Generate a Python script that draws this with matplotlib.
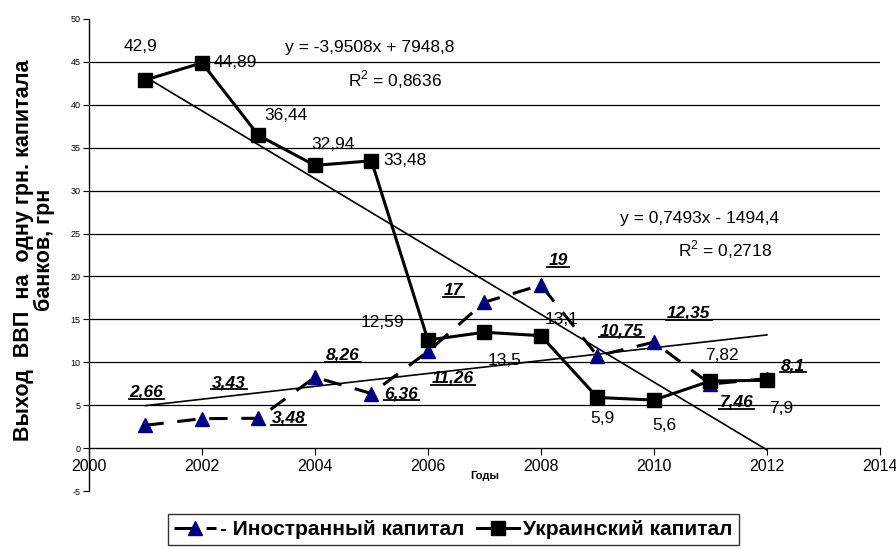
import numpy as np
import matplotlib
matplotlib.use("Agg")
import matplotlib.pyplot as plt
from matplotlib.lines import Line2D

plt.rcParams['font.family'] = ['Liberation Sans', 'DejaVu Sans']
plt.rcParams['mathtext.fontset'] = 'custom'
plt.rcParams['mathtext.rm'] = 'Liberation Sans'
plt.rcParams['axes.unicode_minus'] = False

# data
years = [2001, 2002, 2003, 2004, 2005, 2006, 2007, 2008, 2009, 2010, 2011, 2012]
ukr = [42.9, 44.89, 36.44, 32.94, 33.48, 12.59, 13.5, 13.1, 5.9, 5.6, 7.82, 7.9]
foreign = [2.66, 3.43, 3.48, 8.26, 6.36, 11.26, 17, 19, 10.75, 12.35, 7.46, 8.1]
ukr_labels = ["42,9", "44,89", "36,44", "32,94", "33,48", "12,59", "13,5", "13,1", "5,9", "5,6", "7,82", "7,9"]
foreign_labels = ["2,66", "3,43", "3,48", "8,26", "6,36", "11,26", "17", "19", "10,75", "12,35", "7,46", "8,1"]
ukr_trend = (-3.9508, 7948.8)
foreign_trend = (0.7493, -1494.4)
ukr_eq = ["y = -3,9508x + 7948,8", "R$^2$ = 0,8636"]
foreign_eq = ["y = 0,7493x - 1494,4", "R$^2$ = 0,2718"]
series_names = ["- Иностранный капитал", "Украинский капитал"]

# label offsets in pixels (layout only)
ukr_off = [(-5, 33), (33, 0), (28, 20), (18, 21), (34, 0), (-45, 18),
           (20, -28), (21, 16), (5, -21), (10, -25), (12, 25), (14, -28)]
foreign_off = [(1, 33), (27, 36), (30, 0), (28, 22), (30, 0), (25, -27),
               (-31, 12), (17, 25), (24, 25), (35, 29), (26, -18), (26, 13)]

fig = plt.figure(figsize=(8.96, 5.49), dpi=100)
ax = fig.add_axes([0.0993, 0.1056, 0.8827, 0.8598])

ax.set_xlim(2000, 2014)
ax.set_ylim(-5, 50)

for g in np.arange(5, 50, 5):
    ax.axhline(g, color='black', lw=0.9, zorder=1)

# trend lines
tx = np.array([years[0], years[-1]])
ax.plot(tx, ukr_trend[0] * tx + ukr_trend[1], color='black', lw=1.2, zorder=2)
ax.plot(tx, foreign_trend[0] * tx + foreign_trend[1], color='black', lw=1.2, zorder=2)

# series
ax.plot(years, foreign, color='black', lw=2.2, dashes=(6, 4.5),
        marker='^', ms=10, mfc='#000080', mec='#000080', zorder=3)
ax.plot(years, ukr, color='black', lw=2.2,
        marker='s', ms=10, mfc='black', mec='black', zorder=4)

for x, y, t, (dx, dy) in zip(years, ukr, ukr_labels, ukr_off):
    ax.annotate(t, (x, y), xytext=(dx, dy), textcoords='offset pixels',
                ha='center', va='center', fontsize=12.5, zorder=5)

foreign_texts = []
for x, y, t, (dx, dy) in zip(years, foreign, foreign_labels, foreign_off):
    a = ax.annotate(t, (x, y), xytext=(dx, dy), textcoords='offset pixels',
                    ha='center', va='center', fontsize=12.5,
                    fontstyle='italic', fontweight='bold', zorder=5)
    foreign_texts.append(a)

ax.text(2004.97, 46.7, ukr_eq[0], ha='center', va='center', fontsize=12.5)
ax.text(2005.42, 42.9, ukr_eq[1], ha='center', va='center', fontsize=12.5)
ax.text(2010.81, 26.8, foreign_eq[0], ha='center', va='center', fontsize=12.5)
ax.text(2011.26, 23.1, foreign_eq[1], ha='center', va='center', fontsize=12.5)

# axes look
for s in ['top', 'right']:
    ax.spines[s].set_visible(False)
ax.spines['bottom'].set_position(('data', 0))
ax.spines['bottom'].set_linewidth(1)
ax.spines['left'].set_linewidth(1)
ax.set_xticks(np.arange(2000, 2015, 2))
ax.set_yticks(np.arange(-5, 51, 5))
ax.tick_params(axis='x', direction='out', length=5, labelsize=11.5, pad=3)
ax.tick_params(axis='y', direction='out', length=4, labelsize=6.5, pad=2)

ax.set_xlabel("Годы", fontsize=8, fontweight='bold', labelpad=-2)
fig.text(0.038, 0.545, "Выход  ВВП  на  одну грн. капитала\nбанков, грн",
         rotation=90, ha='center', va='center', fontsize=15.5,
         fontweight='bold', linespacing=1.0)

handles = [Line2D([], [], color='black', lw=2.2, dashes=(6, 4.5), marker='^',
                  ms=10, mfc='#000080', mec='#000080'),
           Line2D([], [], color='black', lw=2.2, marker='s', ms=10,
                  mfc='black', mec='black')]
leg = fig.legend(handles, series_names, loc='upper center',
                 bbox_to_anchor=(0.506, 0.064), ncol=2, frameon=True,
                 fancybox=False, edgecolor='black', handlelength=2,
                 handletextpad=0.2, columnspacing=0.6, borderpad=0.3,
                 borderaxespad=0, prop={'size': 15, 'weight': 'bold'})
leg.get_frame().set_linewidth(1)

# underline the foreign labels
fig.canvas.draw()
renderer = fig.canvas.get_renderer()
inv = fig.transFigure.inverted()
for a in foreign_texts:
    bb = a.get_window_extent(renderer)
    p0 = inv.transform((bb.x0 - 1, bb.y0 + 1))
    p1 = inv.transform((bb.x1 + 1, bb.y0 + 1))
    fig.add_artist(Line2D([p0[0], p1[0]], [p0[1], p1[1]], color='black',
                          lw=1.3, transform=fig.transFigure))

fig.savefig("out.png", dpi=100)
